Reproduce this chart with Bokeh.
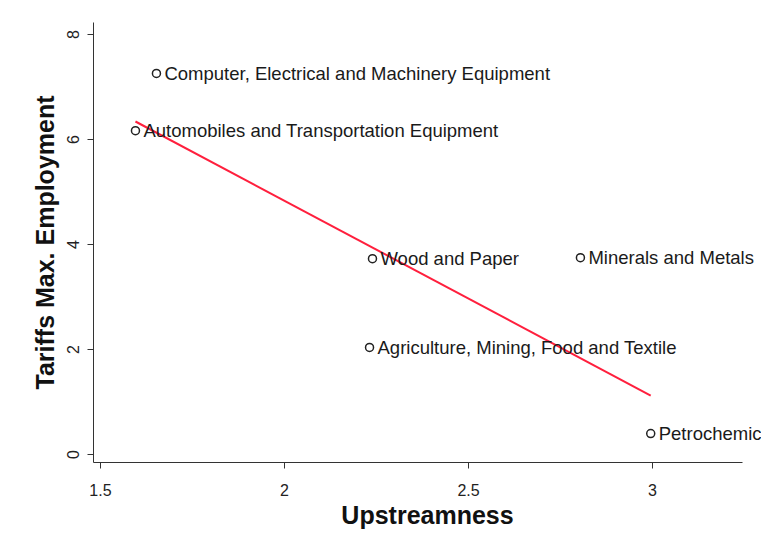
from bokeh.plotting import figure
from bokeh.models import ColumnDataSource, LabelSet, FixedTicker, Range1d
from bokeh.core.properties import value
from bokeh.embed import file_html
from bokeh.resources import INLINE
import numpy as np

sectors = ["Computer, Electrical and Machinery Equipment",
           "Automobiles and Transportation Equipment",
           "Wood and Paper",
           "Minerals and Metals",
           "Agriculture, Mining, Food and Textile",
           "Petrochemicals"]
upstreamness = [1.652, 1.595, 2.239, 2.804, 2.231, 2.995]
tariffs = [7.26, 6.17, 3.73, 3.75, 2.04, 0.40]

x_ticks = [1.5, 2, 2.5, 3]
x_tick_labels = ["1.5", "2", "2.5", "3"]
y_ticks = [0, 2, 4, 6, 8]

# linear fit
xa = np.array(upstreamness)
ya = np.array(tariffs)
slope, intercept = np.polyfit(xa, ya, 1)
fit_x = [xa.min(), xa.max()]
fit_y = [slope * v + intercept for v in fit_x]

FONT = "Liberation Sans"

p = figure(width=761, height=542, output_backend="svg", toolbar_location=None,
           x_range=Range1d(1.481, 3.296), y_range=Range1d(-0.152, 8.23),
           min_border_left=93, min_border_right=0, min_border_top=22, min_border_bottom=80)
p.outline_line_color = None
p.xgrid.visible = False
p.ygrid.visible = False
p.background_fill_color = "white"

p.line(fit_x, fit_y, line_color="#ff1f3d", line_width=2)

src = ColumnDataSource(dict(x=upstreamness, y=tariffs, name=sectors))
p.scatter("x", "y", source=src, size=8, fill_color="white", line_color="#222222", line_width=1.5)
labels = LabelSet(x="x", y="y", text="name", source=src, x_offset=8, y_offset=0,
                  text_baseline="middle", text_align="left", text_font=value(FONT),
                  text_font_size=value("18.5px"), text_color=value("#1a1a1a"))
p.add_layout(labels)

for ax in (p.xaxis[0], p.yaxis[0]):
    ax.axis_line_color = "#333333"
    ax.major_tick_line_color = "#333333"
    ax.minor_tick_line_color = None
    ax.major_tick_out = 6
    ax.major_tick_in = 0
    ax.major_label_text_font = FONT
    ax.major_label_text_font_size = "16px"
    ax.major_label_text_color = "#222222"
    ax.axis_label_text_font = FONT
    ax.axis_label_text_font_style = "bold"
    ax.axis_label_text_font_size = "25px"
    ax.axis_label_text_color = "#111111"

p.xaxis.ticker = FixedTicker(ticks=x_ticks)
p.xaxis.bounds = (1.481, 3.245)
p.xaxis.major_label_overrides = {t: l for t, l in zip(x_ticks, x_tick_labels)}
p.xaxis.axis_label = "Upstreamness"
p.xaxis.major_label_standoff = 15
p.xaxis.axis_label_standoff = 2

p.yaxis.ticker = FixedTicker(ticks=y_ticks)
p.yaxis.major_label_orientation = "vertical"
p.yaxis.axis_label = "Tariffs Max. Employment"
p.yaxis.major_label_standoff = 8
p.yaxis.axis_label_standoff = 6

open("out.html", "w").write(file_html(p, INLINE))
